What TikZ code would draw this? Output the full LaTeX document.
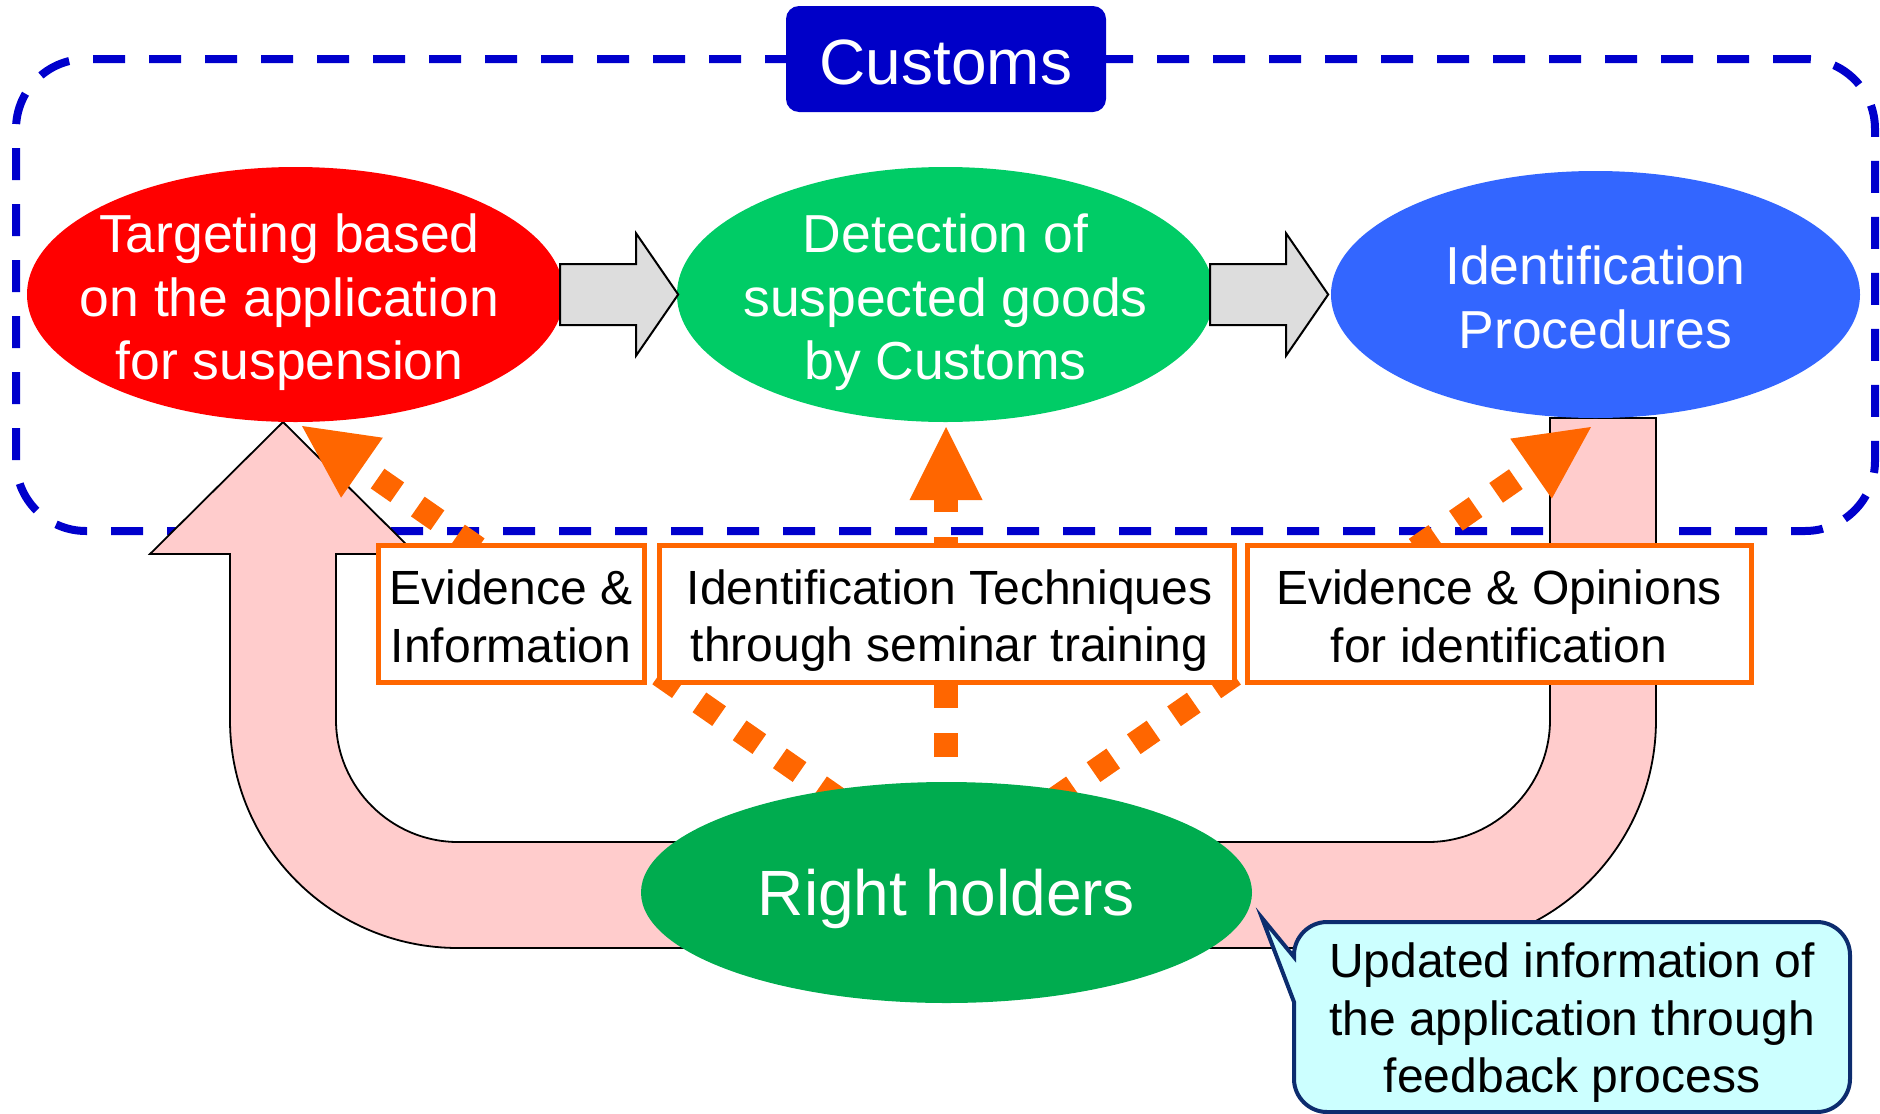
\documentclass[tikz,border=0pt]{standalone}
\usepackage{fontspec}
\setmainfont{Liberation Sans}
\usetikzlibrary{shapes.geometric,calc}
\definecolor{cDash}{HTML}{0000CC}
\definecolor{cCustoms}{HTML}{0000C8}
\definecolor{cRed}{HTML}{FF0000}
\definecolor{cGreen}{HTML}{00CC66}
\definecolor{cBlueE}{HTML}{3366FF}
\definecolor{cRH}{HTML}{00AC4F}
\definecolor{cOrange}{HTML}{FF6600}
\definecolor{cPink}{HTML}{FFCCCC}
\definecolor{cGray}{HTML}{DDDDDD}
\definecolor{cCyan}{HTML}{CCFFFF}
\definecolor{cNavy}{HTML}{0C2C6E}
\newcommand\oarrow[2]{%
  \coordinate (#2b) at ($(#2)!73pt!(#1)$);
  \draw[odash] (#1) -- (#2b);
  \fill[cOrange] (#2) -- ($(#2b)!36.5pt!90:(#2)$) -- ($(#2b)!36.5pt!-90:(#2)$) -- cycle;}
\newcommand\blockarrow[1]{%
  \draw[grayarrow] ($(#1)+(-4,-30.5)$) -- ($(#1)+(72,-30.5)$) -- ($(#1)+(72,-61)$)
    -- ($(#1)+(114,0)$) -- ($(#1)+(72,61)$) -- ($(#1)+(72,30.5)$)
    -- ($(#1)+(-4,30.5)$) -- cycle;}
\begin{document}
\begin{tikzpicture}[x=1pt,y=-1pt,
  ell/.style={ellipse, inner sep=0pt, draw=none},
  etext/.style={text=white, align=center, font=\fontsize{53.5}{63.5}\selectfont},
  bigtext/.style={text=white, font=\fontsize{64}{76}\selectfont},
  obox/.style={draw=cOrange, line width=5pt, fill=white, inner sep=0pt, align=center,
    font=\fontsize{48}{57.5}\selectfont},
  odash/.style={draw=cOrange, line width=24pt, dash pattern=on 24pt off 25pt},
  grayarrow/.style={fill=cGray, draw=black, line width=2pt, line join=miter},
  pinkarrow/.style={fill=cPink, draw=black, line width=1.8pt, line join=miter},
  region/.style={draw=cDash, line width=8pt, dash pattern=on 32pt off 24pt,
    rounded corners=70pt, inner sep=0pt}]
\useasboundingbox (0,0) rectangle (1880,1114);

% customs region
\node[region, minimum width=1859pt, minimum height=472pt] (region) at (945.5,295) {};

% feedback U arrow
\draw[pinkarrow] (1656,418) -- (1656,720)
  .. controls (1656,846) and (1554,948) .. (1428,948) -- (458,948)
  .. controls (332,948) and (230,846) .. (230,720) -- (230,554) -- (150,554)
  -- (283,422) -- (416,554) -- (336,554) -- (336,720)
  .. controls (336,787) and (391,842) .. (458,842) -- (1428,842)
  .. controls (1495,842) and (1550,787) .. (1550,720) -- (1550,418) -- cycle;

% orange dotted arrows
\coordinate (ls) at (880,828);  \coordinate (lt) at (302,426);
\coordinate (ms) at (946,806);  \coordinate (mt) at (946,427);
\coordinate (rs) at (1013,828); \coordinate (rt) at (1591,427);
\oarrow{ls}{lt}
\oarrow{ms}{mt}
\oarrow{rs}{rt}

% label boxes
\node[obox, minimum width=266pt, minimum height=137pt] (b1) at (511,613.5) {};
\node[obox, minimum width=575pt, minimum height=137pt] (b2) at (946.5,613.5) {};
\node[obox, minimum width=504pt, minimum height=137pt] (b3) at (1499,613.5) {};
\node[align=center, font=\fontsize{48}{57.5}\selectfont, yshift=-3pt] (b1t) at (b1.center) {Evidence \&\\Information};
\node[align=center, font=\fontsize{48}{57.5}\selectfont, yshift=-7pt, xshift=3pt] (b2t) at (b2.center) {Identification Techniques\\through seminar training};
\node[align=center, font=\fontsize{48}{57.5}\selectfont, yshift=-3pt] (b3t) at (b3.center) {Evidence \& Opinions\\for identification};

% ellipses
\node[ell, fill=cRed, minimum width=537pt, minimum height=255pt] (red) at (295.5,294.5) {};
\node[ell, fill=cGreen, minimum width=537pt, minimum height=255pt] (green) at (945.5,294.5) {};
\node[ell, fill=cBlueE, minimum width=529pt, minimum height=247pt] (blue) at (1595.5,294.5) {};
\node[ell, fill=cRH, minimum width=611pt, minimum height=221pt] (rh) at (946.5,892.5) {};

% process arrows
\blockarrow{red.east}
\blockarrow{green.east}

% customs title
\node[fill=cCustoms, rounded corners=13pt, minimum width=320pt, minimum height=106pt,
  inner sep=0pt] (customs) at (946,59) {};
\node[bigtext, yshift=-3pt] (customst) at (customs.center) {Customs};

% callout
\draw[fill=cCyan, draw=cNavy, line width=4pt] (1294,957) -- (1262,918) -- (1294,1002) -- (1294,1079)
  .. controls (1294,1097) and (1309,1112) .. (1327,1112) -- (1817,1112)
  .. controls (1835,1112) and (1850,1097) .. (1850,1079) -- (1850,955)
  .. controls (1850,937) and (1835,922) .. (1817,922) -- (1327,922)
  .. controls (1309,922) and (1294,937) .. (1294,955) -- cycle;
\node[align=center, font=\fontsize{48}{57.5}\selectfont] (note) at (1572,1023)
  {Updated information of\\the application through\\feedback process};

% ellipse texts
\node[etext, yshift=-8pt, xshift=-6pt] (redtxt) at (red.center) {Targeting based\\on the application\\for suspension};
\node[etext, yshift=-8pt] (greentxt) at (green.center) {Detection of\\suspected goods\\by Customs};
\node[etext, yshift=-3pt] (bluetxt) at (blue.center) {Identification\\Procedures};
\node[bigtext, yshift=-6pt] (rhtxt) at (rh.center) {Right holders};
\end{tikzpicture}
\end{document}
